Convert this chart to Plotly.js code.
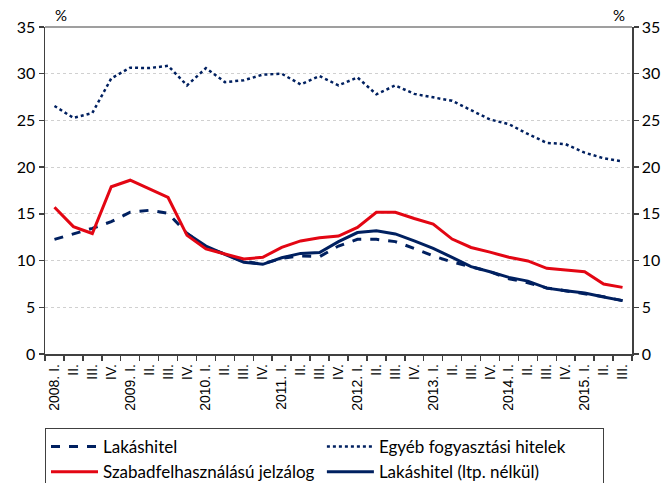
<!DOCTYPE html>
<html>
<head>
<meta charset="utf-8">
<script src="https://cdn.plot.ly/plotly-3.0.1.min.js"></script>
<style>html,body{margin:0;padding:0;background:#fff;}#chart{width:663px;height:483px;}</style>
</head>
<body>
<div id="chart"></div>
<script>
const quarters = ["2008. I.","II.","III.","IV.","2009. I.","II.","III.","IV.","2010. I.","II.","III.","IV.","2011. I.","II.","III.","IV.","2012. I.","II.","III.","IV.","2013. I.","II.","III.","IV.","2014. I.","II.","III.","IV.","2015. I.","II.","III."];
const categories = quarters.map((q, i) => i + ":" + q);

const lakashitel = [12.27,12.85,13.45,14.17,15.17,15.38,15.06,12.9,11.4,10.7,9.88,9.64,10.24,10.5,10.42,11.56,12.27,12.27,12.03,11.3,10.5,9.85,9.35,8.81,8.06,7.63,7.07,6.78,6.5,6.14,5.71];
const egyeb = [26.55,25.27,25.8,29.5,30.65,30.6,30.85,28.75,30.6,29.1,29.3,29.9,30.0,28.85,29.75,28.75,29.6,27.8,28.75,27.84,27.47,27.1,26.1,25.1,24.6,23.55,22.6,22.45,21.55,20.95,20.6];
const szabad = [15.7,13.63,12.9,17.9,18.6,17.65,16.75,12.7,11.24,10.7,10.17,10.35,11.42,12.1,12.45,12.63,13.55,15.17,15.17,14.5,13.9,12.3,11.4,10.9,10.35,9.96,9.17,8.99,8.81,7.49,7.13];
const lakasLtp = [null,null,null,null,null,null,null,12.9,11.56,10.66,9.82,9.6,10.3,10.77,10.87,12.03,13.0,13.2,12.85,12.1,11.3,10.35,9.35,8.81,8.2,7.8,7.05,6.78,6.53,6.1,5.71];

const navy = "#002060";
const red = "#E30613";
const font = "Lato, 'Open Sans', sans-serif";

const traces = [
  {x: categories, y: lakasLtp, name: "Lakáshitel (ltp. nélkül)", type: "scatter", mode: "lines",
   line: {color: navy, width: 3}, legendrank: 4},
  {x: categories, y: lakashitel, name: "Lakáshitel", type: "scatter", mode: "lines",
   line: {color: navy, width: 3, dash: "dash"}, legendrank: 1},
  {x: categories, y: egyeb, name: "Egyéb fogyasztási hitelek", type: "scatter", mode: "lines",
   line: {color: navy, width: 2.5, dash: "dot"}, legendrank: 2},
  {x: categories, y: szabad, name: "Szabadfelhasználású jelzálog", type: "scatter", mode: "lines",
   line: {color: red, width: 3}, legendrank: 3},
  {x: categories, y: egyeb, yaxis: "y2", type: "scatter", mode: "lines", hoverinfo: "skip",
   line: {color: "rgba(0,0,0,0)", width: 0}, showlegend: false}
];

const layout = {
  width: 663, height: 483,
  margin: {l: 45, r: 31, t: 27, b: 129, autoexpand: false},
  paper_bgcolor: "#fff", plot_bgcolor: "#fff",
  showlegend: true,
  font: {family: font, color: "#000"},
  xaxis: {
    type: "category",
    tickvals: categories, ticktext: quarters,
    tickangle: -90,
    tickson: "boundaries",
    ticks: "outside", ticklen: 5, tickcolor: "#404040", tickwidth: 1.5,
    ticklabelstandoff: 3,
    showline: true, linecolor: "#404040", linewidth: 1.5,
    showgrid: false, zeroline: false,
    automargin: false,
    tickfont: {family: "'Liberation Sans', Arial, sans-serif", size: 14, color: "#000"},
    range: [-0.5, 30.5], fixedrange: true
  },
  yaxis: {
    range: [0, 35], dtick: 5, tick0: 0,
    ticks: "outside", ticklen: 5, tickcolor: "#404040", tickwidth: 1.5,
    showline: true, linecolor: "#404040", linewidth: 1.5,
    showgrid: true, gridcolor: "#d0d0d0", griddash: "dot", gridwidth: 1,
    zeroline: false, automargin: false,
    tickfont: {family: font, size: 16, color: "#000"}
  },
  yaxis2: {
    overlaying: "y", side: "right",
    range: [0, 35], dtick: 5, tick0: 0,
    ticks: "outside", ticklen: 5, tickcolor: "#404040", tickwidth: 1.5,
    showline: true, linecolor: "#404040", linewidth: 1.5,
    showgrid: false, zeroline: false, automargin: false,
    tickfont: {family: font, size: 16, color: "#000"}
  },
  shapes: [
    {type: "line", xref: "paper", yref: "paper", x0: 0, x1: 1, y0: 1, y1: 1,
     line: {color: "#7f7f7f", width: 1.5}}
  ],
  annotations: [
    {text: "%", xref: "paper", yref: "paper", x: 0.027, y: 1, xanchor: "center", yanchor: "bottom",
     yshift: 1, showarrow: false, font: {family: font, size: 15, color: "#000"}},
    {text: "%", xref: "paper", yref: "paper", x: 0.978, y: 1, xanchor: "center", yanchor: "bottom",
     yshift: 1, showarrow: false, font: {family: font, size: 15, color: "#000"}}
  ],
  legend: {
    orientation: "h",
    x: 0, xanchor: "left", y: -0.2263, yanchor: "top",
    bordercolor: "#404040", borderwidth: 1,
    entrywidth: 0.47, entrywidthmode: "fraction",
    font: {family: font, size: 17, color: "#000"},
    tracegroupgap: 0, itemwidth: 47,
    traceorder: "normal"
  }
};

Plotly.newPlot("chart", traces, layout, {displayModeBar: false, staticPlot: true});
</script>
</body>
</html>
